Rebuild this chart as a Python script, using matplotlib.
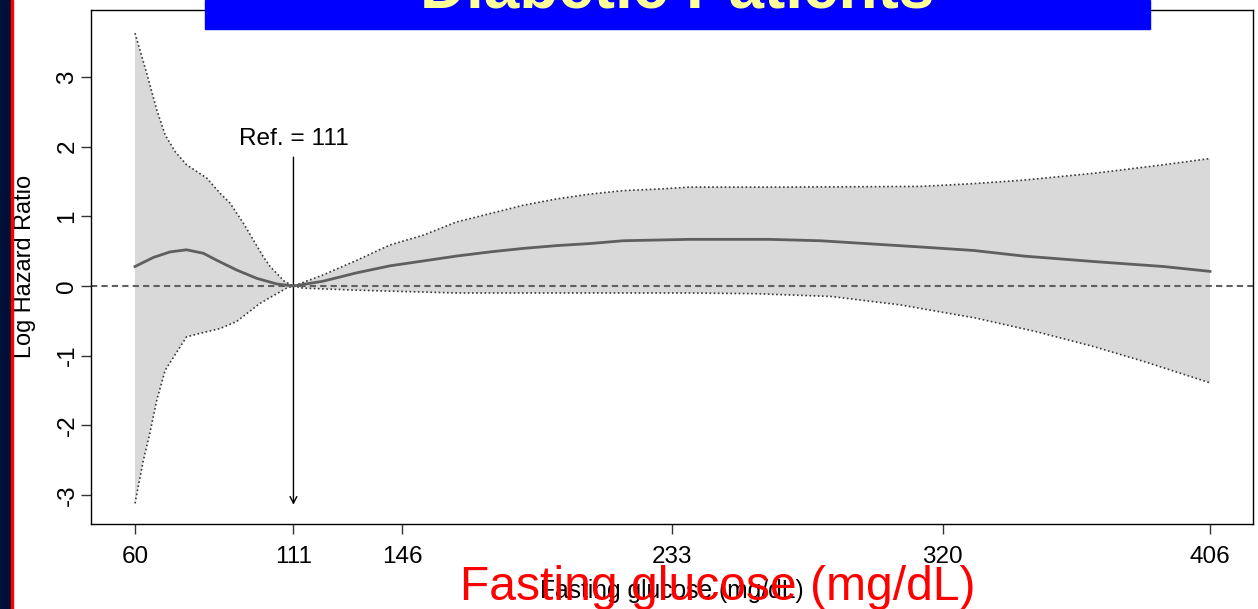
import numpy as np
import matplotlib
matplotlib.use('Agg')
import matplotlib.pyplot as plt
from matplotlib.patches import Rectangle

plt.rcParams['font.family'] = ['Liberation Sans', 'DejaVu Sans']

# curva ajustada (log hazard ratio) e limites do IC
glu_fit = [60, 65.9, 71.3, 76.6, 82, 86.3, 92.7, 99.2, 105.6, 111, 120.6, 131.4, 142.1, 152.8, 163.5,
           174.3, 185, 195.7, 206.5, 217.2, 238.6, 264, 280.5, 295, 313, 330, 346, 369, 391, 406]
fit = [0.28, 0.41, 0.49, 0.52, 0.47, 0.37, 0.23, 0.11, 0.03, 0, 0.07, 0.19, 0.29, 0.36, 0.43,
       0.49, 0.54, 0.58, 0.61, 0.65, 0.67, 0.67, 0.65, 0.61, 0.56, 0.51, 0.43, 0.35, 0.28, 0.21]

glu_up = [60, 63.8, 67, 69.7, 72.9, 76.6, 83.1, 87.4, 90.6, 94.9, 98.1, 101.3, 103.5, 108, 111,
          120.6, 131.4, 142.1, 152.8, 163.5, 174.3, 185, 195.7, 206.5, 217.2, 227.9, 238.6, 270,
          313, 330, 346, 369, 391, 406]
ci_up = [3.63, 3.05, 2.53, 2.17, 1.93, 1.74, 1.55, 1.33, 1.19, 0.90, 0.66, 0.42, 0.28, 0.07, 0,
         0.16, 0.37, 0.59, 0.73, 0.92, 1.04, 1.16, 1.25, 1.32, 1.37, 1.39, 1.42, 1.42,
         1.43, 1.47, 1.52, 1.62, 1.74, 1.83]

glu_lo = [60, 62.7, 64.8, 67, 69.7, 76.6, 80.9, 87.4, 92.7, 100.2, 108.8, 111, 114, 131.4, 163.5,
          238.6, 259.5, 284, 306.2, 330.6, 350.5, 368.6, 385.2, 406]
ci_lo = [-3.12, -2.5, -2.11, -1.64, -1.21, -0.73, -0.68, -0.61, -0.51, -0.25, -0.03, 0, -0.03, -0.06, -0.10,
         -0.10, -0.11, -0.15, -0.27, -0.46, -0.66, -0.87, -1.09, -1.39]

xticks = [60, 111, 146, 233, 320, 406]
yticks = [-3, -2, -1, 0, 1, 2, 3]
ref = 111

fig = plt.figure(figsize=(12.58, 6.09), dpi=100)
W, H = 1258, 609
ax = fig.add_axes([91/W, 1-524/H, (1253-91)/W, (524-10)/H])

# faixa do IC
ax.fill(np.concatenate([glu_up, glu_lo[::-1]]), np.concatenate([ci_up, ci_lo[::-1]]),
        color='#d9d9d9', lw=0, zorder=1)
ax.plot(glu_up, ci_up, color='#3a3a3a', ls=(0, (1, 1.5)), lw=1.2, zorder=3)
ax.plot(glu_lo, ci_lo, color='#3a3a3a', ls=(0, (1, 1.5)), lw=1.2, zorder=3)
ax.plot(glu_fit, fit, color='#5f5f5f', lw=2, zorder=4)
ax.axhline(0, color='#606060', lw=1.5, ls=(0, (3, 2)), zorder=2)

# seta da referencia
ax.annotate('', xy=(ref, -3.14), xytext=(ref, 1.85),
            arrowprops=dict(arrowstyle='->', color='black', lw=1, mutation_scale=12, shrinkA=0, shrinkB=0))
ax.text(ref, 2.02, f'Ref. = {ref}', ha='center', va='baseline', fontsize=17.6)

ax.set_xlim(45.84, 419.84)
ax.set_ylim(-3.416, 3.962)
ax.set_xticks(xticks)
ax.set_xticklabels([str(t) for t in xticks])
ax.set_yticks(yticks)
ax.set_yticklabels([str(t) for t in yticks], rotation=90, va='center')
ax.tick_params(direction='out', length=7, width=1, color='#333333', labelsize=17.5, pad=9)
ax.tick_params(axis='y', pad=2)
for s in ax.spines.values():
    s.set_color('black')
    s.set_linewidth(1)

fig.text(25/W, 1-266/H, 'Log Hazard Ratio', rotation=90, ha='center', va='center', fontsize=16.9)
fig.text(672/W, 1-598/H, 'Fasting glucose (mg/dL)', ha='center', va='baseline', fontsize=17.7)
fig.text(718/W, 1-600/H, 'Fasting glucose (mg/dL)', ha='center', va='baseline', fontsize=34.6,
         color='red', zorder=10)

# barra lateral e caixa do titulo
fig.add_artist(Rectangle((0, 0), 11/W, 1, transform=fig.transFigure, color='#000f35', zorder=5))
fig.add_artist(Rectangle((11/W, 0), 2/W, 1, transform=fig.transFigure, color='red', zorder=5))
fig.add_artist(Rectangle((205/W, 1-29/H), (1150-205)/W, 29/H, transform=fig.transFigure,
                         color='#0000ff', zorder=5))
fig.text(677/W, 1-8/H, 'Diabetic Patients', ha='center', va='baseline', fontsize=46,
         fontweight='bold', color='#ffff99', zorder=6)

fig.savefig('out.png', dpi=100)
